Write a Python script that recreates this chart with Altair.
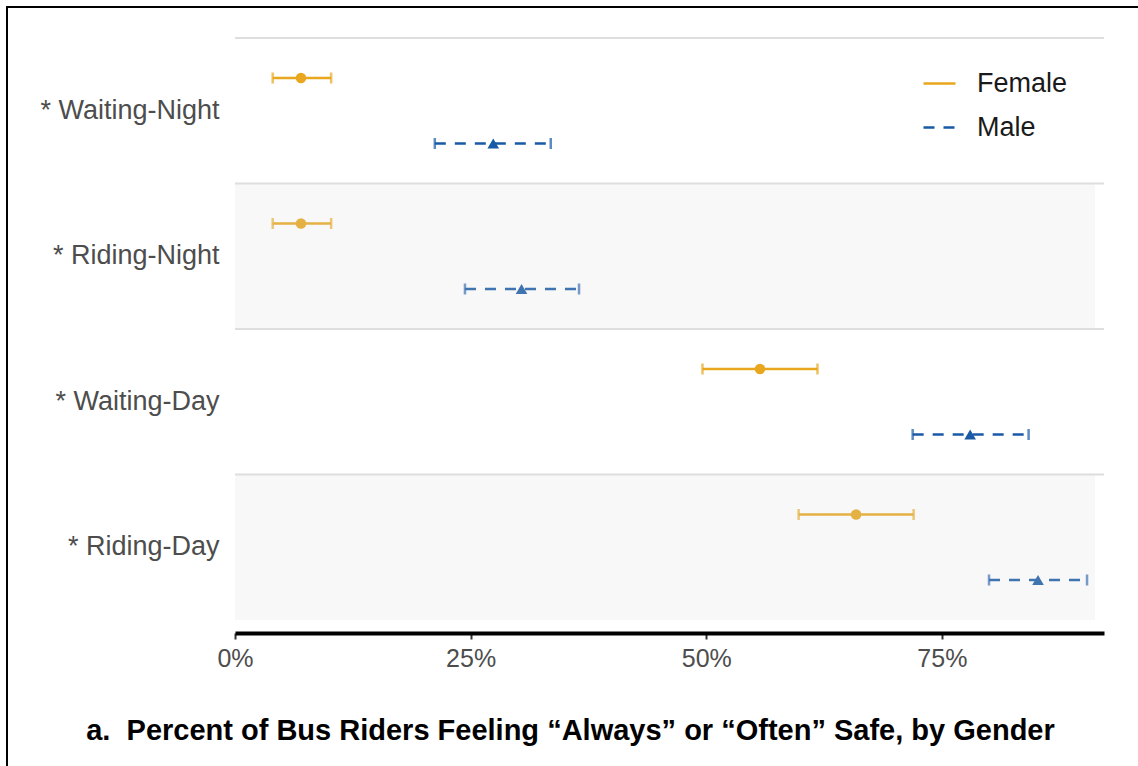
import altair as alt
import pandas as pd

# Survey rows, top to bottom
categories = ["* Waiting-Night", "* Riding-Night", "* Waiting-Day", "* Riding-Day"]
shaded_rows = ["* Riding-Night", "* Riding-Day"]
genders = ["Female", "Male"]

# Share answering "Always"/"Often" with interval bounds
female_est = [0.070, 0.070, 0.557, 0.659]
female_lo = [0.040, 0.040, 0.496, 0.598]
female_hi = [0.102, 0.102, 0.618, 0.720]
male_est = [0.274, 0.304, 0.780, 0.852]
male_lo = [0.212, 0.244, 0.719, 0.800]
male_hi = [0.335, 0.365, 0.842, 0.904]

tick_values = [0, 0.25, 0.5, 0.75]
colors = ["#E8A71E", "#195AA6"]

rows = []
for i, c in enumerate(categories):
    rows.append({"cat": c, "gender": "Female", "est": female_est[i], "lo": female_lo[i], "hi": female_hi[i]})
    rows.append({"cat": c, "gender": "Male", "est": male_est[i], "lo": male_lo[i], "hi": male_hi[i]})
df = pd.DataFrame(rows)
df["grp"] = df["gender"]  # separate field for marks that stay out of the legend
bands = pd.DataFrame({"cat": categories})
shade = pd.DataFrame({"cat": shaded_rows})

W, H = 869, 582
PAD_L, PAD_T, PAD_R, PAD_B = 235, 38, 34, 146

x_scale = alt.Scale(domain=[0, 0.922], nice=False, zero=True)
y_scale = alt.Scale(domain=categories, paddingInner=0, paddingOuter=0)
off_scale = alt.Scale(domain=genders, paddingInner=0, paddingOuter=0.111)

x_axis = alt.Axis(
    values=tick_values, format=".0%", grid=False, offset=13, labelFlush=False,
    domainColor="black", domainWidth=4, tickColor="#333333", tickWidth=2, tickSize=6,
    labelFontSize=25, labelColor="#4D4D4D", labelPadding=7, labelFont="Liberation Sans",
    title="a.\u00a0 Percent of Bus Riders Feeling \u201cAlways\u201d or \u201cOften\u201d Safe, by Gender",
    titleFontSize=29, titleFontWeight="bold", titleColor="black", titleFont="Liberation Sans",
    titleX=335, titleY=106, titleBaseline="alphabetic", titleAlign="center",
)
y_axis = alt.Axis(
    title=None, domain=False, ticks=False, grid=False,
    labelFontSize=27, labelColor="#4D4D4D", labelPadding=16, labelFont="Liberation Sans",
)

X = alt.X("lo:Q", scale=x_scale, axis=x_axis)
Y = alt.Y("cat:N", scale=y_scale, axis=y_axis, sort=categories)
YO = alt.YOffset("gender:N", scale=off_scale, sort=genders)

legend = alt.Legend(
    title=None, orient="none", legendX=687, legendY=28,
    symbolType="stroke", symbolSize=1024, symbolStrokeWidth=2.5,
    labelFontSize=27, labelColor="#1A1A1A", labelFont="Liberation Sans",
    labelOffset=20, rowPadding=13,
)

bars = alt.Chart(df).mark_rule(strokeWidth=2.5).encode(
    x=X, x2="hi:Q", y=Y, yOffset=YO,
    color=alt.Color("gender:N", scale=alt.Scale(domain=genders, range=colors), legend=legend),
    strokeDash=alt.StrokeDash("gender:N", scale=alt.Scale(domain=genders, range=[[1, 0], [11, 9]]),
                              legend=legend),
)

fill_enc = alt.Fill("grp:N", scale=alt.Scale(domain=genders, range=colors), legend=None)

caps_lo = alt.Chart(df).mark_tick(size=11, thickness=2.5).encode(
    x=alt.X("lo:Q", scale=x_scale), y=Y, yOffset=YO, fill=fill_enc
)
caps_hi = alt.Chart(df).mark_tick(size=11, thickness=2.5).encode(
    x=alt.X("hi:Q", scale=x_scale), y=Y, yOffset=YO, fill=fill_enc
)

# point estimates: circles for women, triangles for men
points_f = alt.Chart(df).transform_filter(alt.datum.gender == "Female").mark_point(
    shape="circle", size=110, filled=True, opacity=1, strokeWidth=0
).encode(x=alt.X("est:Q", scale=x_scale), y=Y, yOffset=YO, fill=fill_enc)
points_m = alt.Chart(df).transform_filter(alt.datum.gender == "Male").mark_point(
    shape="triangle-up", size=135, filled=True, opacity=1, strokeWidth=0
).encode(x=alt.X("est:Q", scale=x_scale), y=Y, yOffset=YO, fill=fill_enc)

# light gray wash over alternating rows
wash = alt.Chart(shade).mark_rect(fill="#DCDCDC", opacity=0.2).encode(
    y=alt.Y("cat:N", scale=y_scale, sort=categories), x=alt.value(0), x2=alt.value(W - 9)
)

# row separators at the top edge of each band
seps = alt.Chart(bands).mark_rule(color="#DEDEDE", strokeWidth=2).encode(
    y=alt.Y("cat:N", scale=y_scale, sort=categories, bandPosition=0), x=alt.value(0), x2=alt.value(W)
)

# frame lines on the left and top edges of the figure
frame_left = alt.Chart(bands.head(1)).mark_rule(color="black", strokeWidth=2).encode(
    x=alt.value(-PAD_L + 7), y=alt.value(-PAD_T + 6), y2=alt.value(H + PAD_B)
)
frame_top = alt.Chart(bands.head(1)).mark_rule(color="black", strokeWidth=2).encode(
    x=alt.value(-PAD_L + 6), x2=alt.value(W + PAD_R), y=alt.value(-PAD_T + 7)
)

chart = alt.layer(bars, caps_lo, caps_hi, points_f, points_m, wash, seps, frame_left, frame_top).properties(
    width=W, height=H,
    autosize=alt.AutoSizeParams(type="none"),
    padding={"left": PAD_L, "top": PAD_T, "right": PAD_R, "bottom": PAD_B},
    background="white",
).configure_view(stroke=None)

chart.save("out.html", embed_options={"renderer": "svg", "actions": False})
